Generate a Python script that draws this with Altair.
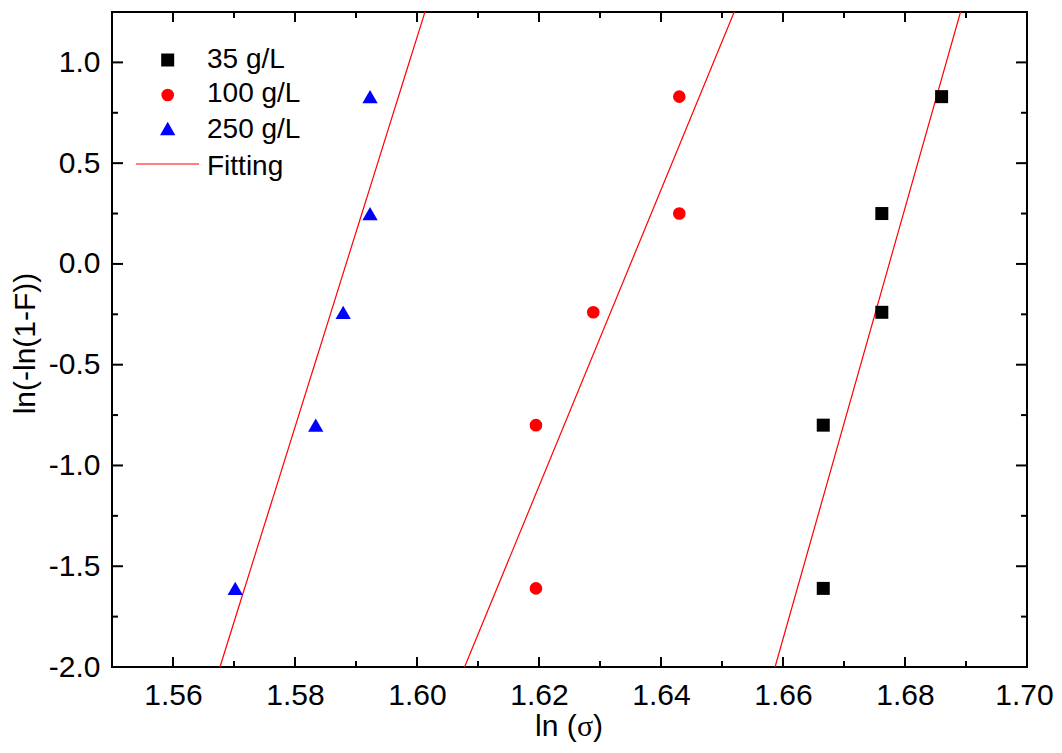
import altair as alt
import pandas as pd

# ---- data ----
y_levels = [-1.61, -0.80, -0.24, 0.25, 0.83]
x_35 = [1.6666, 1.6666, 1.6762, 1.6762, 1.6860]
x_100 = [1.6195, 1.6195, 1.6289, 1.6430, 1.6430]
x_250 = [1.5702, 1.5834, 1.5879, 1.5923, 1.5923]

# fitted lines: x at y=-2.0 and x at y=1.25
fit_y = [-2.0, 1.25]
fit_35 = [1.6587, 1.6891]
fit_100 = [1.6078, 1.6520]
fit_250 = [1.5677, 1.6013]

x_major = [1.56, 1.58, 1.60, 1.62, 1.64, 1.66, 1.68, 1.70]
x_minor = [1.57, 1.59, 1.61, 1.63, 1.65, 1.67, 1.69]
y_major = [-2.0, -1.5, -1.0, -0.5, 0.0, 0.5, 1.0]
y_minor = [-1.75, -1.25, -0.75, -0.25, 0.25, 0.75]

legend_labels = ["35 g/L", "100 g/L", "250 g/L", "Fitting"]
x_title_parts = ["ln (", "\u03c3", ")"]
y_title = "ln(-ln(1-F))"

W, H = 915, 655
FONT = "Liberation Sans"
SERIF = "Liberation Serif"
MINUS = "\u2212"

xscale = alt.Scale(domain=[1.55, 1.70], nice=False, zero=False)
yscale = alt.Scale(domain=[-2.0, 1.25], nice=False, zero=False)

xaxis = alt.Axis(
    values=x_major, ticks=False, domain=False, grid=False,
    labelExpr=f"replace(format(datum.value, '.2f'), '{MINUS}', '-')",
    labelFont=FONT, labelFontSize=30, labelColor="black", labelPadding=13,
    labelOffset={"condition": {"test": "datum.value > 1.695", "value": -3}, "value": 0},
    title=None, labelFlush=False, labelOverlap=False,
)
yaxis = alt.Axis(
    values=y_major, ticks=False, domain=False, grid=False,
    labelExpr=f"replace(format(datum.value, '.1f'), '{MINUS}', '-')",
    labelFont=FONT, labelFontSize=30, labelColor="black", labelPadding=12,
    title=y_title, titleFont=FONT, titleFontSize=30, titleFontWeight="normal",
    titleColor="black", titleBaseline="alphabetic", titleX=-78, titleY=331,
    labelFlush=False, labelOverlap=False,
)

X = alt.X("x:Q", scale=xscale, axis=xaxis)
Y = alt.Y("y:Q", scale=yscale, axis=yaxis)

def pts(xs, shape, color, size):
    df = pd.DataFrame({"x": xs, "y": y_levels})
    return alt.Chart(df).mark_point(shape=shape, filled=True, color=color, size=size,
                                    opacity=1, strokeWidth=0).encode(x=X, y=Y)

def fit(xs):
    df = pd.DataFrame({"x": xs, "y": fit_y})
    return alt.Chart(df).mark_line(color="#ff0000", strokeWidth=1.2, clip=True).encode(x=X, y=Y)

layers = [fit(fit_35), fit(fit_100), fit(fit_250),
          pts(x_35, "square", "#000000", 169),
          pts(x_100, "circle", "#ff0000", 160),
          pts(x_250, "triangle-up", "#0000ff", 235)]

# inward ticks on all four sides
def xticks(vals, length):
    df = pd.DataFrame({"x": vals})
    bot = alt.Chart(df).mark_rule(color="black", strokeWidth=2).encode(
        x=X, y=alt.value(H), y2=alt.value(H - length))
    top = alt.Chart(df).mark_rule(color="black", strokeWidth=2).encode(
        x=X, y=alt.value(0), y2=alt.value(length))
    return [bot, top]

def yticks(vals, length):
    df = pd.DataFrame({"y": vals})
    left = alt.Chart(df).mark_rule(color="black", strokeWidth=2).encode(
        y=Y, x=alt.value(0), x2=alt.value(length))
    right = alt.Chart(df).mark_rule(color="black", strokeWidth=2).encode(
        y=Y, x=alt.value(W), x2=alt.value(W - length))
    return [left, right]

layers += xticks(x_major, 10) + xticks(x_minor, 6) + yticks(y_major, 11) + yticks(y_minor, 6)

# manual legend (top-left inside the plot)
sym_x = 55.7
sym_y = [48, 83, 116.5, 152]
txt_y = [56, 90, 126, 163]
leg_shapes = ["square", "circle", "triangle-up"]
leg_colors = ["#000000", "#ff0000", "#0000ff"]
leg_sizes = [169, 160, 235]
for i in range(3):
    d = pd.DataFrame({"label": [legend_labels[i]]})
    layers.append(alt.Chart(d).mark_point(shape=leg_shapes[i], filled=True, color=leg_colors[i],
                                          size=leg_sizes[i], opacity=1, strokeWidth=0).encode(
        x=alt.value(sym_x), y=alt.value(sym_y[i])))
d = pd.DataFrame({"label": [legend_labels[3]]})
layers.append(alt.Chart(d).mark_rule(color="#ff0000", strokeWidth=1.2).encode(
    x=alt.value(24), x2=alt.value(87), y=alt.value(sym_y[3])))
for i in range(4):
    d = pd.DataFrame({"label": [legend_labels[i]]})
    layers.append(alt.Chart(d).mark_text(align="left", baseline="alphabetic", font=FONT,
                                         fontSize=28, color="black").encode(
        x=alt.value(95), y=alt.value(txt_y[i]), text="label:N"))

# x-axis title: "ln (" in sans, sigma in serif, ")" in sans
title_x = [423, 465, 481]
title_fonts = [FONT, SERIF, FONT]
for i in range(3):
    d = pd.DataFrame({"label": [x_title_parts[i]]})
    layers.append(alt.Chart(d).mark_text(align="left", baseline="alphabetic", font=title_fonts[i],
                                         fontSize=30, color="black").encode(
        x=alt.value(title_x[i]), y=alt.value(H + 69), text="label:N"))

chart = alt.layer(*layers).properties(
    width=W, height=H,
    autosize=alt.AutoSizeParams(type="none"),
    padding={"left": 104, "top": 4, "right": 27, "bottom": 78},
    background="white",
).configure_view(stroke="black", strokeWidth=2)

chart.save("out.html", embed_options={"renderer": "svg", "actions": False})
